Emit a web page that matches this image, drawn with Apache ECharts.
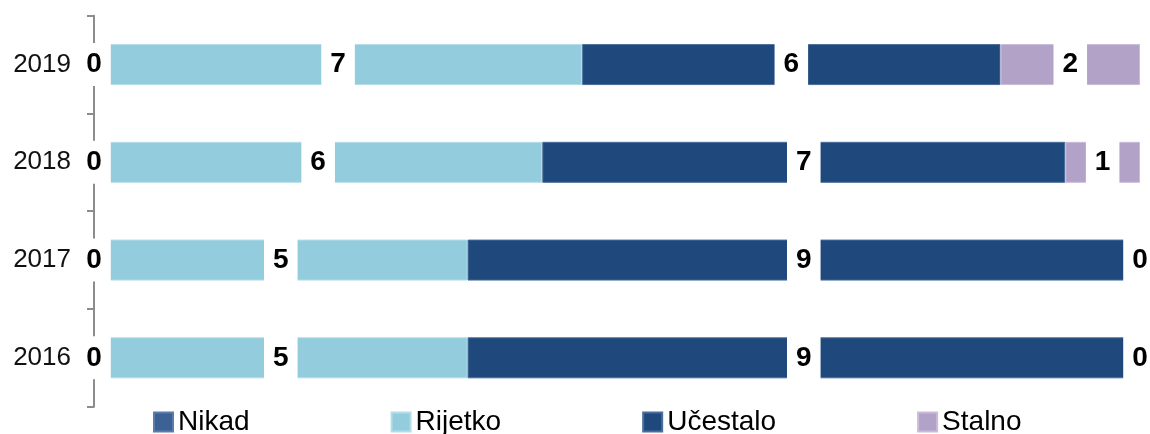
<!DOCTYPE html>
<html>
<head>
<meta charset="utf-8">
<script src="https://cdn.jsdelivr.net/npm/echarts@6/dist/echarts.min.js"></script>
<style>
html,body{margin:0;padding:0;background:#fff;}
#chart{width:1150px;height:434px;}
</style>
</head>
<body>
<div id="chart"></div>
<script>
var categories = ['2016', '2017', '2018', '2019'];
var seriesNames = ['Nikad', 'Rijetko', 'Učestalo', 'Stalno'];
var nikad = [0, 0, 0, 0];
var rijetko = [5, 5, 6, 7];
var ucestalo = [9, 9, 7, 6];
var stalno = [0, 0, 1, 2];
var colors = ['#3b6195', '#93cddd', '#1f497d', '#b3a2c7'];
var borders = ['#5a7dab', '#b4dde8', '#4a6d9b', '#c9bcd9'];

var rawSets = [nikad, rijetko, ucestalo, stalno];
var totals = categories.map(function (c, i) {
  return rawSets.reduce(function (s, arr) { return s + arr[i]; }, 0);
});

var series = rawSets.map(function (arr, k) {
  return {
    name: seriesNames[k],
    type: 'bar',
    stack: 'all',
    barWidth: 41,
    itemStyle: { color: colors[k], borderColor: borders[k], borderWidth: 1 },
    label: {
      show: true,
      position: 'inside',
      formatter: function (p) { return String(arr[p.dataIndex]); },
      fontFamily: 'Liberation Sans',
      fontWeight: 'bold',
      fontSize: 28,
      lineHeight: 28,
      color: '#000',
      backgroundColor: '#fff',
      padding: [7.5, 9]
    },
    data: arr.map(function (v, i) { return v / totals[i] * 100; })
  };
});

var chart = echarts.init(document.getElementById('chart'), null, { renderer: 'canvas' });
chart.setOption({
  animation: false,
  color: colors,
  grid: { left: 94, right: 10, top: 15.7, bottom: 27.3, containLabel: false },
  xAxis: { type: 'value', min: 0, max: 100, show: false },
  yAxis: {
    type: 'category',
    data: categories,
    axisLine: { show: true, lineStyle: { color: '#8c8c8c', width: 2 } },
    axisTick: { show: true, length: 7, lineStyle: { color: '#8c8c8c', width: 2 } },
    axisLabel: { margin: 23, fontFamily: 'Liberation Sans', fontSize: 26, color: '#111' },
    splitLine: { show: false }
  },
  legend: {
    data: seriesNames,
    left: 153,
    top: 408,
    padding: 0,
    icon: 'rect',
    itemWidth: 19,
    itemHeight: 19,
    itemGap: 141,
    textStyle: { fontFamily: 'Liberation Sans', fontSize: 28, color: '#000' }
  },
  series: series
});
</script>
</body>
</html>
